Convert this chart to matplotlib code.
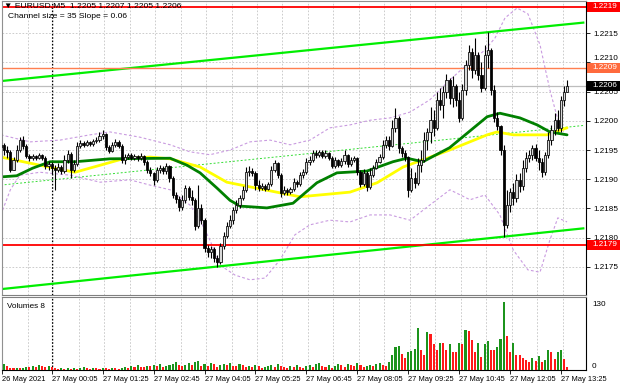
import matplotlib
matplotlib.use("Agg")
import matplotlib.pyplot as plt
import matplotlib.transforms as mtransforms
from matplotlib.patches import Rectangle
import numpy as np

plt.rcParams['font.family'] = ['Liberation Sans', 'DejaVu Sans']

# ---------------- data (EURUSD M5) ----------------
first_open = 1.21955
closes = [1.21959, 1.21950, 1.21947, 1.21916, 1.21933, 1.21950, 1.21967, 1.21957, 1.21940, 1.21936,
          1.21940, 1.21936, 1.21942, 1.21936, 1.21923, 1.21926, 1.21919, 1.21916, 1.21921, 1.21914,
          1.21933, 1.21943, 1.21916, 1.21926, 1.21957, 1.21962, 1.21959, 1.21964, 1.21960, 1.21966,
          1.21967, 1.21974, 1.21978, 1.21955, 1.21948, 1.21959, 1.21964, 1.21957, 1.21933, 1.21938,
          1.21942, 1.21936, 1.21940, 1.21936, 1.21940, 1.21930, 1.21916, 1.21911, 1.21899, 1.21916,
          1.21919, 1.21914, 1.21923, 1.21902, 1.21873, 1.21866, 1.21853, 1.21864, 1.21885, 1.21870,
          1.21864, 1.21820, 1.21851, 1.21830, 1.21782, 1.21775, 1.21781, 1.21765, 1.21758, 1.21786,
          1.21803, 1.21820, 1.21830, 1.21847, 1.21856, 1.21868, 1.21882, 1.21912, 1.21914, 1.21911,
          1.21890, 1.21885, 1.21889, 1.21883, 1.21892, 1.21916, 1.21928, 1.21907, 1.21876, 1.21882,
          1.21878, 1.21883, 1.21895, 1.21892, 1.21907, 1.21912, 1.21930, 1.21933, 1.21945, 1.21942,
          1.21947, 1.21940, 1.21945, 1.21936, 1.21923, 1.21933, 1.21924, 1.21931, 1.21942, 1.21926,
          1.21933, 1.21936, 1.21912, 1.21892, 1.21911, 1.21887, 1.21907, 1.21919, 1.21930, 1.21938,
          1.21959, 1.21967, 1.21957, 1.21988, 1.22005, 1.21954, 1.21945, 1.21938, 1.21882, 1.21902,
          1.21894, 1.21924, 1.21933, 1.21967, 1.21981, 1.22001, 1.21988, 1.22036, 1.22027, 1.22049,
          1.22070, 1.22039, 1.22060, 1.22036, 1.22005, 1.22053, 1.22096, 1.22118, 1.22087, 1.22113,
          1.22079, 1.22056, 1.22113, 1.22121, 1.22053, 1.22005, 1.21991, 1.21950, 1.21822, 1.21856,
          1.21878, 1.21868, 1.21899, 1.21889, 1.21919, 1.21936, 1.21942, 1.21954, 1.21936, 1.21930,
          1.21912, 1.21942, 1.21967, 1.21984, 1.22001, 1.21988, 1.22036, 1.22050, 1.22060]
highs = [1.21979, 1.21962, 1.21957, 1.21950, 1.21938, 1.21959, 1.21972, 1.21974, 1.21960, 1.21943,
         1.21943, 1.21942, 1.21945, 1.21943, 1.21940, 1.21931, 1.21930, 1.21924, 1.21928, 1.21924,
         1.21942, 1.21950, 1.21947, 1.21933, 1.21964, 1.21967, 1.21966, 1.21967, 1.21966, 1.21969,
         1.21972, 1.21981, 1.21984, 1.21979, 1.21959, 1.21964, 1.21969, 1.21967, 1.21960, 1.21943,
         1.21945, 1.21945, 1.21943, 1.21942, 1.21945, 1.21942, 1.21933, 1.21921, 1.21912, 1.21921,
         1.21924, 1.21923, 1.21928, 1.21924, 1.21906, 1.21878, 1.21871, 1.21873, 1.21890, 1.21889,
         1.21882, 1.21868, 1.21890, 1.21858, 1.21834, 1.21787, 1.21786, 1.21784, 1.21770, 1.21791,
         1.21810, 1.21827, 1.21839, 1.21853, 1.21864, 1.21873, 1.21889, 1.21921, 1.21923, 1.21919,
         1.21914, 1.21899, 1.21894, 1.21892, 1.21895, 1.21923, 1.21933, 1.21930, 1.21911, 1.21889,
         1.21885, 1.21887, 1.21902, 1.21899, 1.21912, 1.21918, 1.21936, 1.21940, 1.21950, 1.21950,
         1.21950, 1.21950, 1.21950, 1.21947, 1.21940, 1.21938, 1.21935, 1.21936, 1.21950, 1.21943,
         1.21938, 1.21940, 1.21938, 1.21916, 1.21918, 1.21914, 1.21919, 1.21924, 1.21935, 1.21943,
         1.21967, 1.21974, 1.21974, 1.22001, 1.22022, 1.22008, 1.21957, 1.21950, 1.21940, 1.21919,
         1.21912, 1.21936, 1.21950, 1.21981, 1.21988, 1.22024, 1.22019, 1.22049, 1.22056, 1.22060,
         1.22080, 1.22073, 1.22077, 1.22063, 1.22049, 1.22063, 1.22104, 1.22130, 1.22125, 1.22142,
         1.22118, 1.22101, 1.22130, 1.22152, 1.22125, 1.22061, 1.22015, 1.21993, 1.21959, 1.21882,
         1.21885, 1.21894, 1.21909, 1.21911, 1.21933, 1.21947, 1.21950, 1.21959, 1.21960, 1.21950,
         1.21936, 1.21947, 1.21981, 1.21993, 1.22013, 1.22019, 1.22043, 1.22060, 1.22070]
lows = [1.21947, 1.21942, 1.21936, 1.21912, 1.21919, 1.21930, 1.21947, 1.21952, 1.21936, 1.21931,
        1.21933, 1.21933, 1.21935, 1.21933, 1.21918, 1.21916, 1.21909, 1.21882, 1.21912, 1.21909,
        1.21911, 1.21928, 1.21902, 1.21912, 1.21923, 1.21954, 1.21955, 1.21957, 1.21957, 1.21957,
        1.21962, 1.21964, 1.21969, 1.21950, 1.21945, 1.21947, 1.21955, 1.21954, 1.21928, 1.21926,
        1.21935, 1.21933, 1.21933, 1.21931, 1.21933, 1.21924, 1.21911, 1.21906, 1.21890, 1.21895,
        1.21911, 1.21909, 1.21909, 1.21895, 1.21868, 1.21859, 1.21846, 1.21847, 1.21859, 1.21864,
        1.21856, 1.21813, 1.21817, 1.21823, 1.21775, 1.21767, 1.21765, 1.21758, 1.21750, 1.21755,
        1.21781, 1.21799, 1.21817, 1.21823, 1.21842, 1.21851, 1.21864, 1.21878, 1.21906, 1.21906,
        1.21882, 1.21880, 1.21882, 1.21880, 1.21882, 1.21889, 1.21912, 1.21902, 1.21870, 1.21873,
        1.21873, 1.21875, 1.21880, 1.21887, 1.21889, 1.21902, 1.21909, 1.21924, 1.21930, 1.21936,
        1.21938, 1.21936, 1.21936, 1.21933, 1.21919, 1.21919, 1.21921, 1.21921, 1.21926, 1.21921,
        1.21923, 1.21930, 1.21907, 1.21887, 1.21889, 1.21880, 1.21883, 1.21904, 1.21918, 1.21928,
        1.21935, 1.21954, 1.21950, 1.21955, 1.21981, 1.21945, 1.21938, 1.21931, 1.21870, 1.21878,
        1.21885, 1.21890, 1.21912, 1.21930, 1.21950, 1.21962, 1.21974, 1.21984, 1.22019, 1.22005,
        1.22039, 1.22029, 1.22024, 1.22025, 1.21998, 1.22001, 1.22044, 1.22087, 1.22073, 1.22080,
        1.22070, 1.22049, 1.22053, 1.22091, 1.22044, 1.21998, 1.21984, 1.21942, 1.21801, 1.21817,
        1.21844, 1.21856, 1.21861, 1.21878, 1.21882, 1.21912, 1.21930, 1.21933, 1.21931, 1.21916,
        1.21904, 1.21907, 1.21936, 1.21959, 1.21976, 1.21983, 1.21981, 1.22025, 1.22050]
volumes = [8, 12, 7, 4, 3, 4, 3, 4, 6, 5, 7, 5, 9, 7, 5, 7,
           6, 4, 1, 3, 2, 4, 2, 3, 2, 3, 6, 4, 2, 4, 3, 2,
           4, 3, 2, 4, 3, 2, 3, 5, 4, 7, 5, 9, 6, 5, 8, 7,
           9, 7, 11, 6, 8, 10, 12, 15, 9, 7, 10, 13, 9, 16, 18, 7,
           12, 8, 14, 11, 5, 9, 12, 10, 13, 8, 7, 11, 9, 6, 8, 5,
           10, 7, 4, 6, 8, 9, 5, 12, 7, 6, 4, 7, 5, 9, 6, 4,
           8, 10, 6, 11, 13, 7, 5, 9, 4, 8, 11, 9, 6, 12, 10, 8,
           13, 9, 6, 8, 10, 7, 12, 14, 10, 8, 15,
           29, 44, 47, 32, 23, 35, 36, 40, 81, 39, 30, 74, 70, 50, 39, 53, 52, 39, 50, 35,
           34, 52, 50, 78, 75, 58, 34, 53, 26, 50, 57, 39, 38, 45, 61, 131, 66, 34, 52, 30,
           29, 23, 20, 16, 23, 18, 27, 16, 19, 38, 35, 22, 34, 39, 22, 6]

# moving averages (read at sampled bars)
ma_green_bars = [0, 5, 10, 15.5, 23.3, 34.3, 53.2, 58.5, 62.6, 67.9, 72, 75.2, 78.3, 83.6, 91.8,
                 99.3, 105.6, 115, 123.2, 127.6, 132.6, 141, 152.8, 156.8, 163.1, 168.5, 172.5, 177.9]
ma_green = [1.21904, 1.21906, 1.21919, 1.21930, 1.21930, 1.21935, 1.21936, 1.21924, 1.21911, 1.21885,
            1.21864, 1.21854, 1.21853, 1.21851, 1.21859, 1.21894, 1.21911, 1.21914, 1.21930, 1.21936,
            1.21930, 1.21954, 1.22007, 1.22013, 1.22005, 1.21993, 1.21981, 1.21976]
ma_yellow_bars = [0, 12.3, 23.3, 31.2, 38.4, 46.9, 53.2, 62.6, 71, 78.3, 94, 109.7, 118.2, 126.4,
                  141, 152.8, 155.9, 161, 171.6, 177.9]
ma_yellow = [1.21938, 1.21924, 1.21912, 1.21924, 1.21935, 1.21938, 1.21935, 1.21921, 1.21895, 1.21887,
             1.21870, 1.21878, 1.21894, 1.21921, 1.21950, 1.21976, 1.21981, 1.21976, 1.21976, 1.21988]

# Bollinger-type envelope
bb_up_bars = [0, 9.2, 18.6, 28, 34.3, 43.7, 53.2, 59.4, 65.7, 72, 78.3, 84.6, 90.9, 97.1, 103.4,
              109.7, 116, 122.3, 128.6, 134.8, 141.1, 147.4, 152.1, 155.3, 158.4, 162.2, 165.6,
              169.4, 172.5, 175]
bb_up = [1.21976, 1.21964, 1.21967, 1.21976, 1.21981, 1.21972, 1.21959, 1.21947, 1.21942, 1.21950,
         1.21964, 1.21967, 1.21959, 1.21967, 1.21988, 1.21993, 1.22001, 1.22005, 1.22015, 1.22036,
         1.22070, 1.22101, 1.22121, 1.22142, 1.22176, 1.22193, 1.22183, 1.22130, 1.22053, 1.22002]
bb_lo_bars = [0, 3, 6, 12.3, 21.8, 31.2, 40.6, 46.9, 53.2, 59.4, 62.6, 65.7, 68.9, 73.6, 78.3, 83,
              87.7, 92.4, 97.1, 103.4, 109.7, 116, 122.3, 128.6, 134.8, 141.1, 147.4, 152.1, 156.8,
              161, 165.6, 169.4, 172.5, 175, 177.9]
bb_lo = [1.21839, 1.21882, 1.21907, 1.21912, 1.21907, 1.21895, 1.21899, 1.21890, 1.21882, 1.21856,
         1.21830, 1.21796, 1.21753, 1.21736, 1.21728, 1.21731, 1.21762, 1.21805, 1.21822, 1.21830,
         1.21827, 1.21839, 1.21839, 1.21830, 1.21856, 1.21882, 1.21865, 1.21873, 1.21839, 1.21779,
         1.21745, 1.21741, 1.21796, 1.21834, 1.21827]

# regression channel
channel_bars = [0, 183]
channel_upper = [1.22068, 1.22168]
channel_lower = [1.21712, 1.21816]

# horizontal levels
level_high = 1.22195
level_low = 1.21788
level_orange = 1.22091
bid = 1.22060

price_ticks = [1.2175, 1.2180, 1.2185, 1.2190, 1.2195, 1.2200, 1.2205, 1.2210, 1.2215]
time_tick_bars = [0.4, 16, 32, 48, 64, 80, 96, 112, 128, 144, 160, 176]
time_labels = ["26 May 2021", "27 May 00:05", "27 May 01:25", "27 May 02:45", "27 May 04:05",
               "27 May 05:25", "27 May 06:45", "27 May 08:05", "27 May 09:25", "27 May 10:45",
               "27 May 12:05", "27 May 13:25"]
header = "\u25bc EURUSD,M5  1.2205 1.2207 1.2205 1.2206"
subheader = "Channel size = 35 Slope = 0.06"

# ---------------- figure ----------------
W, H = 620, 388
fig = plt.figure(figsize=(W / 100, H / 100), dpi=100)
fig.patch.set_facecolor('white')
L, R = 2, 586
ax = fig.add_axes([L / W, 1 - 295 / H, (R - L) / W, 294 / H])
axv = fig.add_axes([L / W, 1 - 370 / H, (R - L) / W, 73 / H])

pxbar = 3.183
x0 = (L - 0.8) / pxbar
x1 = (R - 0.8) / pxbar
for a in (ax, axv):
    a.set_xlim(x0, x1)
ax.set_ylim(1.21702, 1.22205)
axv.set_ylim(0, 141.6)

n = len(closes)
bars = np.arange(n)
o = np.array([first_open] + closes[:-1])
c = np.array(closes)
h = np.array(highs)
l = np.array(lows)

gridkw = dict(color='#c4c4c4', linestyle=(0, (2, 2)), linewidth=0.6, zorder=0.5)
vgrid = np.arange(8.5, x1, 8)
for g in vgrid:
    ax.axvline(g, **gridkw)
    axv.axvline(g, **gridkw)
for p in price_ticks:
    ax.axhline(p, **gridkw)
sepkw = dict(color='black', linestyle=(0, (1.5, 1.5)), linewidth=0.8, zorder=0.6)
ax.axvline(16.0, **sepkw)
axv.axvline(16.0, **sepkw)

# channel
cb = np.array(channel_bars, dtype=float)
cu = np.array(channel_upper)
cl = np.array(channel_lower)
ax.plot(cb, cu, color='#00ee00', lw=1.6, zorder=2)
ax.plot(cb, cl, color='#00ee00', lw=1.6, zorder=2)
ax.plot(cb, (cu + cl) / 2, color='#33dd33', lw=0.7, linestyle=(0, (2, 2)), zorder=2)

# envelope
ax.plot(bb_up_bars, bb_up, color='#c99be0', lw=0.8, linestyle=(0, (2.5, 2)), zorder=1.5)
ax.plot(bb_lo_bars, bb_lo, color='#c99be0', lw=0.8, linestyle=(0, (2.5, 2)), zorder=1.5)

# MAs
ax.plot(ma_yellow_bars, ma_yellow, color='#ffff00', lw=2.0, zorder=2.2, solid_capstyle='round')
ax.plot(ma_green_bars, ma_green, color='#008000', lw=2.0, zorder=2.3, solid_capstyle='round')

# levels
ax.axhline(level_high, color='#ff0000', lw=1.3, zorder=2.5)
ax.axhline(level_low, color='#ff0000', lw=1.3, zorder=2.5)
ax.axhline(level_orange, color='#ff7f50', lw=1.0, zorder=2.5)
ax.axhline(bid, color='#bdbdbd', lw=0.9, zorder=2.5)

# candles
wick_lo = np.minimum(l, np.minimum(o, c))
wick_hi = np.maximum(h, np.maximum(o, c))
ax.vlines(bars, wick_lo, wick_hi, color='black', lw=0.8, zorder=3)
up = c >= o
bottom = np.minimum(o, c)
height = np.maximum(np.abs(c - o), 0.000012)
ax.bar(bars[up], height[up], bottom=bottom[up], width=0.68, facecolor='#d8d8d8',
       edgecolor='black', linewidth=0.55, zorder=4)
ax.bar(bars[~up], height[~up], bottom=bottom[~up], width=0.68, facecolor='black',
       edgecolor='black', linewidth=0.55, zorder=4)

# volumes
v = np.array(volumes)
vcol = ['#1c941c' if (i == 0 or v[i] > v[i - 1]) else '#ff1a1a' for i in range(n)]
axv.bar(bars, v, width=0.65, color=vcol, zorder=3)

# axes styling
for a in (ax, axv):
    for s in a.spines.values():
        s.set_linewidth(0.8)
    a.spines['left'].set_color('#909090')
    a.spines['right'].set_color('black')
ax.spines['top'].set_color('#909090')
ax.spines['bottom'].set_color('#808080')
axv.spines['top'].set_color('#808080')
axv.spines['bottom'].set_color('black')

fs = 5.9
ax.yaxis.tick_right()
ax.set_yticks(price_ticks)
ax.set_yticklabels(['%.4f' % p for p in price_ticks])
ax.tick_params(axis='y', direction='out', length=3, width=0.6, pad=2, labelsize=fs)
ax.tick_params(axis='x', bottom=False, labelbottom=False)
# the 1.2210 label sits just above the 1.2209 level box
for lab, p in zip(ax.get_yticklabels(), price_ticks):
    if abs(p - 1.2210) < 1e-6:
        lab.set_transform(lab.get_transform() +
                          mtransforms.ScaledTranslation(0, 3.2 / 72, fig.dpi_scale_trans))
axv.set_yticks([])
axv.set_xticks(time_tick_bars)
axv.set_xticklabels(time_labels, ha='left')
axv.tick_params(axis='x', direction='out', length=3, width=0.6, pad=1.5, labelsize=5.4)

# right side price boxes
bt = mtransforms.blended_transform_factory(fig.transFigure, ax.transData)
boxh = 10 / 5.84 * 0.0001
for price, txt, col in [(level_high, '1.2219', '#ff0000'), (level_orange, '1.2209', '#ff6a3d'),
                        (bid, '1.2206', '#000000'), (level_low, '1.2179', '#ff0000')]:
    fig.add_artist(Rectangle((587 / W, price - boxh / 2), 33 / W, boxh, transform=bt,
                             facecolor=col, edgecolor='none', zorder=5, clip_on=False))
    fig.text(592 / W, price, txt, transform=bt, color='white', fontsize=fs, va='center',
             ha='left', zorder=6)

fig.text(592 / W, 1 - 304 / H, '130', fontsize=fs, va='center', ha='left')
fig.text(592 / W, 1 - 366 / H, '0', fontsize=fs, va='center', ha='left')
fig.text(7 / W, 1 - 307 / H, 'Volumes 8', fontsize=fs, va='center', ha='left')
fig.text(4 / W, 1 - 6 / H, header, fontsize=6.1, va='center', ha='left', zorder=7)
fig.text(8 / W, 1 - 17 / H, subheader, fontsize=6.1, va='center', ha='left', zorder=7)

fig.savefig('out.png', dpi=100, facecolor='white')
